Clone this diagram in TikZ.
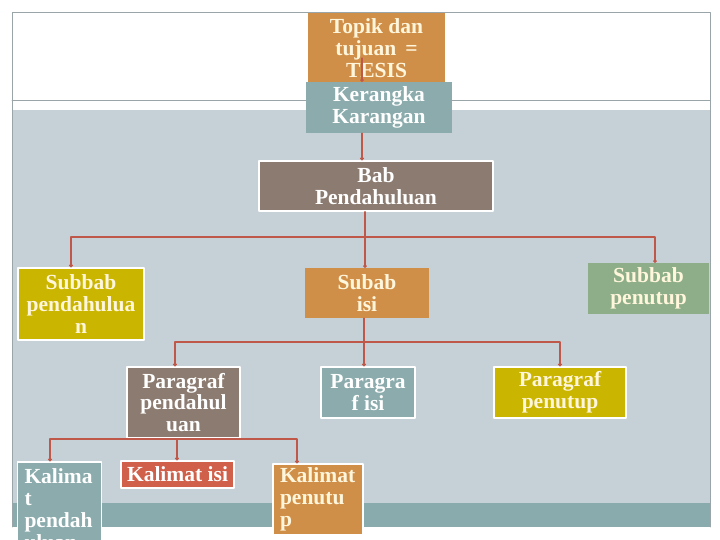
\documentclass[tikz,border=0pt]{standalone}
\usepackage{fontspec}
\setmainfont{Liberation Serif}
\usetikzlibrary{arrows.meta}
\definecolor{jingga}{HTML}{D08F48}
\definecolor{hijaubiru}{HTML}{8BABAC}
\definecolor{coklat}{HTML}{8C7B70}
\definecolor{kuning}{HTML}{CAB500}
\definecolor{hijau}{HTML}{8DAE88}
\definecolor{bata}{HTML}{D0604A}
\definecolor{latar}{HTML}{C6D1D7}
\definecolor{pita}{HTML}{8AABAD}
\definecolor{merah}{HTML}{C0584A}
\definecolor{abu}{HTML}{9AA5AA}
\definecolor{krem}{HTML}{FFF6DC}
\begin{document}
\begin{tikzpicture}[x=1pt,y=-1pt, line join=round, line cap=round,
	font=\fontsize{21.5}{21.8}\selectfont\bfseries,
	kotak/.style={inner sep=0pt, align=center, text=white},
	bingkai/.style={kotak, draw=white, line width=1.5pt},
	garis/.style={draw=merah, line width=1.3pt},
	panah/.style={garis, -{Circle[length=3.5pt,width=3.5pt]}}]
	\useasboundingbox (0,0) rectangle (720,540);
	\clip (0,0) rectangle (720,540);
	% latar slide
	\fill[white] (0,0) rectangle (720,540);
	\fill[latar] (12,110) rectangle (710,503);
	\fill[pita] (12,503) rectangle (710,527);
	\draw[abu, line width=0.8pt] (12,527) -- (12,12) -- (710,12) -- (710,527);
	\draw[abu, line width=0.8pt] (12,100) -- (710,100);
	% kotak-kotak
	\node[kotak, fill=jingga, text=krem, minimum width=137pt, minimum height=70pt] (topik) at (376.5,48) {Topik dan\\tujuan \,=\\TESIS};
	\node[kotak, fill=hijaubiru, minimum width=146pt, minimum height=51pt] (kerangka) at (379,107.5) {Kerangka\\Karangan};
	\node[bingkai, fill=coklat, minimum width=234pt, minimum height=50pt] (bab) at (376,186) {Bab\\Pendahuluan};
	\node[bingkai, fill=kuning, text=krem, minimum width=126pt, minimum height=72pt] (subpend) at (81,304) {Subbab\\pendahulua\\n};
	\node[kotak, fill=jingga, text=krem, minimum width=124pt, minimum height=50pt] (subisi) at (367,293) {Subab\\isi};
	\node[kotak, fill=hijau, text=krem, minimum width=121pt, minimum height=51pt] (subpen) at (648.5,288.5) {Subbab\\penutup};
	\node[bingkai, fill=coklat, minimum width=113pt, minimum height=71pt] (parpend) at (183.5,402.5) {Paragraf\\pendahul\\uan};
	\node[bingkai, fill=hijaubiru, minimum width=94pt, minimum height=51pt] (parisi) at (368,392.5) {Paragra\\f isi};
	\node[bingkai, fill=kuning, text=krem, minimum width=132pt, minimum height=51pt] (parpen) at (560,392.5) {Paragraf\\penutup};
	\node[bingkai, fill=hijaubiru, text width=70pt, inner xsep=7pt, align=left, minimum height=94pt] (kalpend) at (59.5,509) {Kalima\\t\\pendah\\uluan};
	\node[bingkai, fill=bata, minimum width=113pt, minimum height=27pt] (kalisi) at (177.5,474.5) {Kalimat isi};
	\node[bingkai, fill=jingga, text=krem, text width=76pt, inner xsep=7pt, align=left, minimum height=71pt] (kalpen) at (318,499.5) {Kalimat\\penutu\\p};
	% penghubung
	\coordinate (t0) at (362,58);
	\draw[panah] (t0) -- (t0 |- kerangka.north);
	\draw[panah] (kerangka.south -| t0) -- (bab.north -| t0);
	\coordinate (s1) at (365,237);
	\draw[garis] (bab.south -| s1) -- (s1);
	\draw[panah] (s1) -| ([xshift=-10pt]subpend.north);
	\draw[panah] (s1) -- (subisi.north -| s1);
	\draw[panah] (s1) -| ([xshift=6.5pt]subpen.north);
	\coordinate (s2) at (364,342);
	\draw[garis] (subisi.south -| s2) -- (s2);
	\draw[panah] (s2) -| ([xshift=-8.5pt]parpend.north);
	\draw[panah] (s2) -- (parisi.north -| s2);
	\draw[panah] (s2) -| (parpen.north);
	\coordinate (s3) at (177,439);
	\draw[garis] (parpend.south -| s3) -- (s3);
	\draw[panah] (s3) -| ([xshift=-9.5pt]kalpend.north);
	\draw[panah] (s3) -- (kalisi.north -| s3);
	\draw[panah] (s3) -| ([xshift=-21pt]kalpen.north);
\end{tikzpicture}
\end{document}
